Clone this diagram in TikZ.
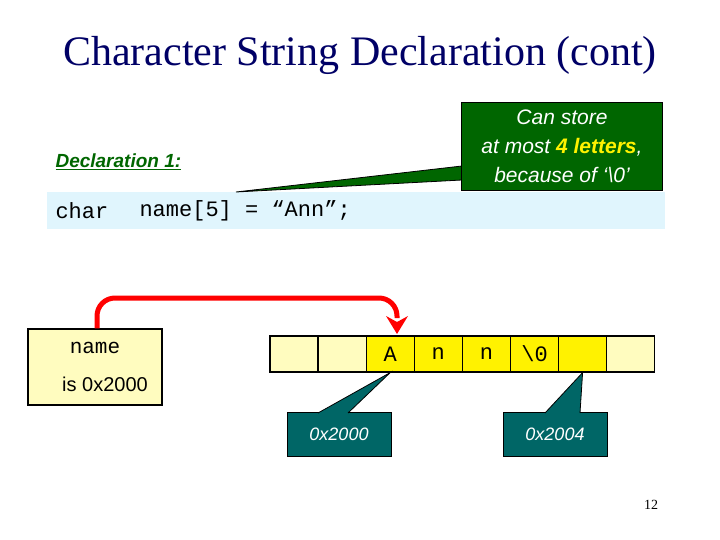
\documentclass[tikz,border=0pt]{standalone}
\usepackage{fontspec}
\setmainfont{Liberation Serif}
\setsansfont{Liberation Sans}
\setmonofont{Liberation Mono}
\begin{document}
\begin{tikzpicture}[x=1pt,y=-1pt,
  cell/.style={draw,line width=1.2pt,fill=yellow!25,minimum width=48pt,minimum height=36pt,inner sep=0,font=\ttfamily\fontsize{22}{22}\selectfont},
  ycell/.style={cell,fill=yellow},
  tealbox/.style={draw,line width=1pt,fill=teal!80!black,text=white,font=\sffamily\itshape\fontsize{18}{18}\selectfont},
  ]
\useasboundingbox (0,0) rectangle (720,540);
\node[font=\fontsize{42}{44}\selectfont,text=blue!40!black] (title) at (360,55) {Character String Declaration (cont)};
% code band
\fill[cyan!12] (47,192) rectangle (665,229);
\node[anchor=west,font=\ttfamily\fontsize{22}{22}\selectfont] (char) at (52,211) {char};
\node[anchor=west,font=\ttfamily\fontsize{22}{22}\selectfont] (decl) at (136,211) {name[5] = “Ann”;};
\node[anchor=west,font=\sffamily\bfseries\itshape\fontsize{19}{19}\selectfont,text=green!40!black] (d1) at (52,162) {\underline{Declaration 1:}};
% green callout
\coordinate (gp) at (236,192);
\fill[green!40!black,draw=black,line width=0.8pt] (462,166) -- (gp) -- (462,180) -- cycle;
\node[draw=black,line width=0.8pt,fill=green!40!black,text=white,minimum width=201pt,minimum height=88pt,align=center,font=\sffamily\itshape\fontsize{21}{29}\selectfont] (green) at (562,146) {Can store\\at most \textcolor{yellow}{\bfseries 4 letters},\\because of `\textbackslash0'};
\fill[green!40!black] (463,167) -- (463,179) -- (470,172) -- cycle;
% name box
\node[draw,line width=1.2pt,fill=yellow!25,minimum width=134pt,minimum height=76pt] (nb) at (95,367) {};
\node[font=\ttfamily\fontsize{21}{21}\selectfont] (nm) at (95,348) {name};
\node[font=\sffamily\fontsize{20}{20}\selectfont] (is) at (105,384) {is 0x2000};
% cells
\foreach \i/\t/\s in {0//cell,1//cell,2/A/ycell,3/n/ycell,4/n/ycell,5/\textbackslash0/ycell,6//ycell,7//cell}
  \node[\s] (c\i) at ({294+48.1*\i},354) {\t};
% red arrow
\draw[red,line width=5pt,rounded corners=18pt] (nb.north -| 97,0) |- (397,298) -- (397,318);
\fill[red] (386,316) -- (397,334) -- (408,316) -- (397,322) -- cycle;
% teal callouts
\node[tealbox,minimum width=104pt,minimum height=44pt] (t1) at (339,434) {0x2000};
\node[tealbox,minimum width=104pt,minimum height=44pt] (t2) at (555,434) {0x2004};
\fill[teal!80!black,draw=black,line width=0.8pt] (318,413) -- (c2.south) -- (348,413);
\fill[teal!80!black,draw=black,line width=0.8pt] (545,413) -- (c6.south) -- (580,413);
\fill[teal!80!black] (319,413.6) -- (347,413.6) -- (340,410) -- (325,410) -- cycle;
\fill[teal!80!black] (546,413.6) -- (579,413.6) -- (572,410) -- (552,410) -- cycle;
\node[font=\fontsize{14}{14}\selectfont] (pg) at (651,505) {12};
\end{tikzpicture}
\end{document}
